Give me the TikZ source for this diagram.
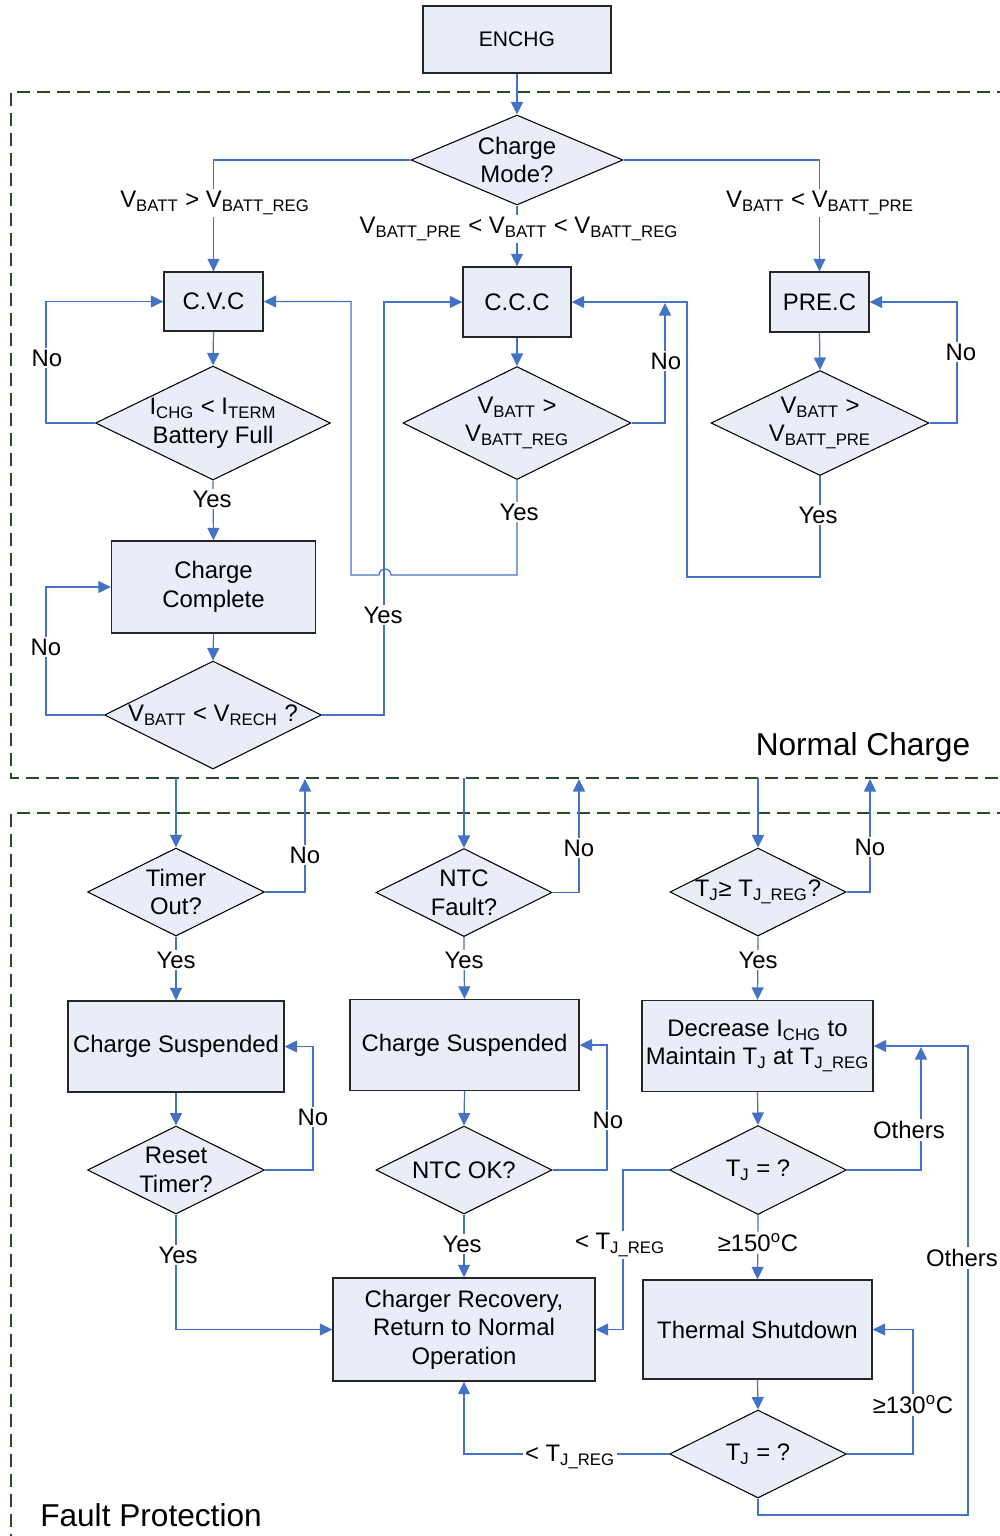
\documentclass[tikz,border=0pt]{standalone}
\usepackage{fontspec}
\setmainfont{Liberation Sans}
\usetikzlibrary{arrows.meta}
\usetikzlibrary{shapes.geometric,positioning}

\definecolor{colorBox}{HTML}{E8EDF7}
\definecolor{colorLine}{HTML}{4472C4}
\definecolor{colorZone}{HTML}{254D22}
\def\colorBox{colorBox}
\def\colorLine{colorLine}
\def\colorZone{colorZone}

\newcommand{\sbs}[1]{\textsubscript{#1}}

\tikzset{
    procbox/.style={draw=black!85, fill=\colorBox, line width=0.8pt, inner sep=0pt, align=center},
    decbox/.style={shape=diamond, draw=black, fill=\colorBox, line width=0.6pt, inner sep=0pt, shape aspect=2, align=center},
    conn/.style={draw=\colorLine, line width=0.7pt, -{Triangle[length=0.25cm,width=0.24cm]}},
    wire/.style={draw=\colorLine, line width=0.7pt},
    lbl/.style={fill=white, inner sep=1pt},
    zone/.style={draw=\colorZone, line width=1.1pt, dash pattern=on 0.26cm off 0.14cm},
}

\begin{document}
\begin{tikzpicture}[x=0.02cm, y=-0.02cm, font=\fontsize{13.6}{16.3}\selectfont]

    \useasboundingbox (0,0) rectangle (1000,1536);
    \clip (0,0) rectangle (1000,1536);

    % Zones
    \draw[zone] (1010,92) -- (11,92) -- (11,778) -- (1010,778);
    \draw[zone] (1010,813) -- (11,813) -- (11,1545);
    \node[font=\fontsize{18}{20}\selectfont] (zoneA) at (863,747) {Normal Charge};
    \node[font=\fontsize{18}{20}\selectfont] (zoneB) at (151,1515) {Fault Protection};

    % Normal charge
    \node[procbox, minimum width=3.76cm, minimum height=1.34cm, font=\fontsize{12}{14}\selectfont] (enchg) at (517,39.5) {ENCHG};
    \node[decbox, shape aspect=2.36, minimum width=4.24cm, minimum height=1.80cm] (mode) at (517,160) {Charge\\Mode?};

    \node[procbox, minimum width=1.98cm, minimum height=1.18cm] (cvc) at (213.5,301.5) {C.V.C};
    \node[procbox, minimum width=2.16cm, minimum height=1.40cm] (ccc) at (517,302) {C.C.C};
    \node[procbox, minimum width=1.98cm, minimum height=1.20cm] (prec) at (819.5,302) {PRE.C};

    \node[decbox, minimum width=4.70cm, minimum height=2.28cm] (full) at (213,423) {I\sbs{CHG} < I\sbs{TERM}\\Battery Full};
    \node[decbox, minimum width=4.56cm, minimum height=2.26cm] (vreg) at (517,423) {V\sbs{BATT} >\\V\sbs{BATT\_REG}};
    \node[decbox, minimum width=4.36cm, minimum height=2.10cm] (vpre) at (820,423) {V\sbs{BATT} >\\V\sbs{BATT\_PRE}};

    \node[procbox, minimum width=4.08cm, minimum height=1.84cm] (done) at (213.5,587) {Charge\\Complete};
    \node[decbox, minimum width=4.34cm, minimum height=2.16cm] (rech) at (213,715) {V\sbs{BATT} < V\sbs{RECH} ?};

    \draw[conn] (enchg.south) -- (mode.north);
    \draw[conn] (mode.west) -| (cvc.north);
    \draw[conn] (mode.east) -| (prec.north);
    \draw[conn] (mode.south) -- (ccc.north);
    \draw[conn] (cvc.south) -- (full.north);
    \draw[conn] (ccc.south) -- (vreg.north);
    \draw[conn] (prec.south) -- (vpre.north);
    \draw[conn] (full.west) -- (46,423) |- (cvc.west);
    \draw[conn] (full.south) -- (done.north);
    \draw[conn] (done.south) -- (rech.north);
    \draw[conn] (rech.west) -- (46,715) |- (done.west);
    \draw[conn] (rech.east) -- (384,715) |- (ccc.west);
    \draw[conn] (vreg.south) |- (391,575) arc[start angle=0, end angle=180, radius=0.12cm] -- (351,575) |- (cvc.east);
    \coordinate (noReg) at (665,303);
    \draw[conn] (vreg.east) -| (noReg);
    \draw[conn] (vpre.south) |- (687,577) |- (ccc.east);
    \draw[conn] (vpre.east) -- (957,423) |- (prec.east);

    \node[lbl] (lCvc) at (215,203) {V\sbs{BATT} > V\sbs{BATT\_REG}};
    \node[lbl] (lCcc) at (519,229) {V\sbs{BATT\_PRE} < V\sbs{BATT} < V\sbs{BATT\_REG}};
    \node[lbl] (lPre) at (820,203) {V\sbs{BATT} < V\sbs{BATT\_PRE}};
    \node[lbl] (lFullNo) at (47,358) {No};
    \node[lbl] (lFullYes) at (212,499) {Yes};
    \node[lbl] (lRegNo) at (666,361) {No};
    \node[lbl] (lRegYes) at (519,512) {Yes};
    \node[lbl] (lPreNo) at (961,352) {No};
    \node[lbl] (lPreYes) at (818,515) {Yes};
    \node[lbl] (lRechNo) at (46,647) {No};
    \node[lbl] (lRechYes) at (383,615) {Yes};

    % Fault protection
    \node[decbox, minimum width=3.54cm, minimum height=1.76cm] (tmo) at (176,892) {Timer\\Out?};
    \node[decbox, minimum width=3.52cm, minimum height=1.76cm] (ntcf) at (464,892.5) {NTC\\Fault?};
    \node[decbox, minimum width=3.52cm, minimum height=1.76cm] (tjreg) at (758,892) {T\sbs{J}≥ T\sbs{J\_REG}?};

    \node[procbox, minimum width=4.32cm, minimum height=1.82cm] (sus1) at (176,1046.5) {Charge Suspended};
    \node[procbox, minimum width=4.58cm, minimum height=1.82cm] (sus2) at (464.5,1045) {Charge Suspended};
    \node[procbox, minimum width=4.62cm, minimum height=1.82cm] (dec) at (757.5,1046) {Decrease I\sbs{CHG} to\\Maintain T\sbs{J} at T\sbs{J\_REG}};

    \node[decbox, minimum width=3.54cm, minimum height=1.76cm] (rst) at (176,1170) {Reset\\Timer?};
    \node[decbox, minimum width=3.52cm, minimum height=1.76cm] (ntcok) at (464,1170) {NTC OK?};
    \node[decbox, minimum width=3.54cm, minimum height=1.78cm] (tja) at (758,1170) {T\sbs{J} = ?};

    \node[procbox, minimum width=5.24cm, minimum height=2.06cm] (rec) at (464,1329.5) {Charger Recovery,\\Return to Normal\\Operation};
    \node[procbox, minimum width=4.58cm, minimum height=1.98cm] (tsd) at (757.5,1329.5) {Thermal Shutdown};
    \node[decbox, minimum width=3.54cm, minimum height=1.76cm] (tjb) at (758,1454) {T\sbs{J} = ?};

    \coordinate (inA) at (176,778);
    \coordinate (inB) at (464,778);
    \coordinate (inC) at (758,778);
    \coordinate (outA) at (305,779);
    \coordinate (outB) at (579,779);
    \coordinate (outC) at (870,779);
    \coordinate (othA) at (921,1047);

    \draw[conn] (inA) -- (tmo.north);
    \draw[conn] (inB) -- (ntcf.north);
    \draw[conn] (inC) -- (tjreg.north);
    \draw[conn] (tmo.east) -| (outA);
    \draw[conn] (ntcf.east) -| (outB);
    \draw[conn] (tjreg.east) -| (outC);
    \draw[conn] (tmo.south) -- (sus1.north);
    \draw[conn] (ntcf.south) -- (sus2.north);
    \draw[conn] (tjreg.south) -- (dec.north);
    \draw[conn] (sus1.south) -- (rst.north);
    \draw[conn] (sus2.south) -- (ntcok.north);
    \draw[conn] (dec.south) -- (tja.north);
    \draw[conn] (rst.east) -- (313,1170) |- (sus1.east);
    \draw[conn] (ntcok.east) -- (607,1170) |- (sus2.east);
    \draw[conn] (rst.south) |- (rec.west);
    \draw[conn] (ntcok.south) -- (rec.north);
    \draw[conn] (tja.west) -- (623,1170) |- (rec.east);
    \draw[conn] (tja.east) -| (othA);
    \draw[conn] (tja.south) -- (tsd.north);
    \draw[conn] (tsd.south) -- (tjb.north);
    \draw[conn] (tjb.east) -- (913,1454) |- (tsd.east);
    \draw[conn] (tjb.west) -| (rec.south);
    \draw[conn] (tjb.south) |- (968,1515) |- (dec.east);

    \node[lbl] (lTmoNo) at (305,855) {No};
    \node[lbl] (lNtcfNo) at (579,848) {No};
    \node[lbl] (lTjregNo) at (870,847) {No};
    \node[lbl] (lTmoYes) at (176,960) {Yes};
    \node[lbl] (lNtcfYes) at (464,960) {Yes};
    \node[lbl] (lTjregYes) at (758,960) {Yes};
    \node[lbl] (lRstNo) at (313,1117) {No};
    \node[lbl] (lNtcokNo) at (608,1120) {No};
    \node[lbl] (lTjaOth) at (909,1130) {Others};
    \node[lbl] (lRstYes) at (178,1255) {Yes};
    \node[lbl] (lNtcokYes) at (462,1244) {Yes};
    \node[lbl] (lTjaLow) at (620,1245) {< T\sbs{J\_REG}};
    \node[lbl] (lTjaHigh) at (758,1243) {≥150\textsuperscript{o}C};
    \node[lbl] (lTjbHigh) at (913,1405) {≥130\textsuperscript{o}C};
    \node[lbl] (lTjbLow) at (570,1457) {< T\sbs{J\_REG}};
    \node[lbl] (lTjbOth) at (962,1258) {Others};

\end{tikzpicture}
\end{document}
